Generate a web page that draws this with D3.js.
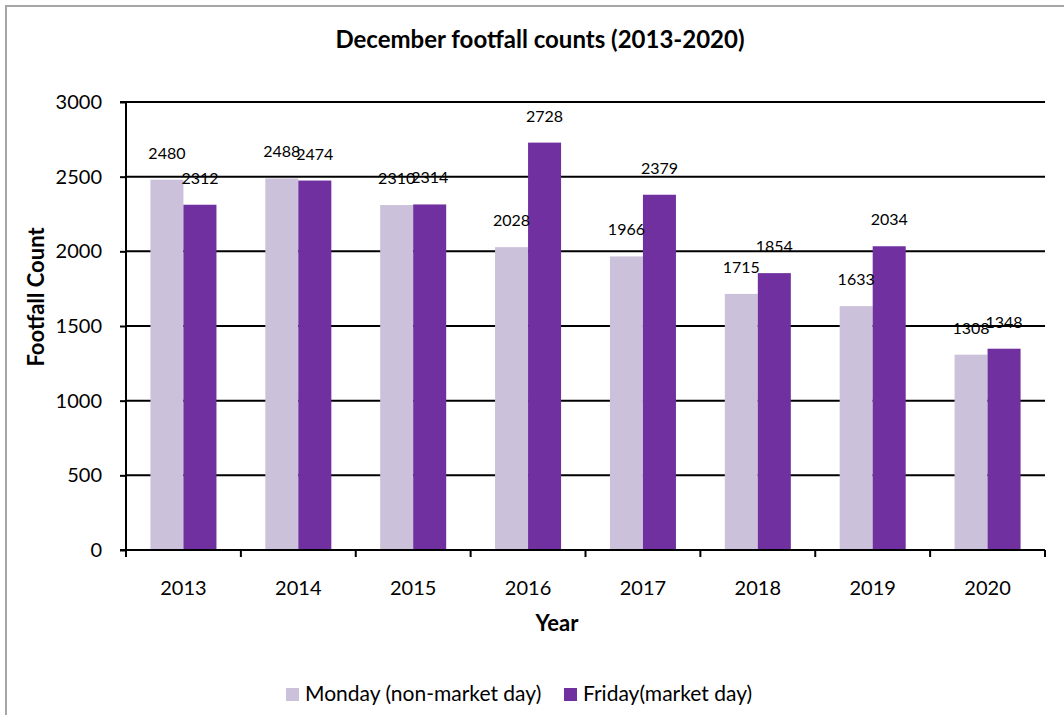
<!DOCTYPE html>
<html>
<head>
<meta charset="utf-8">
<script src="https://cdn.jsdelivr.net/npm/d3@7"></script>
<style>
  html, body { margin: 0; padding: 0; background: #fff; }
  svg { display: block; font-family: Lato, "Open Sans", sans-serif; }
</style>
</head>
<body>
<svg id="chart" width="1064" height="715"></svg>
<script>
// December footfall counts by year, Monday vs Friday
const years = ["2013", "2014", "2015", "2016", "2017", "2018", "2019", "2020"];
const seriesNames = ["Monday (non-market day)", "Friday(market day)"];
const mondayCounts = [2480, 2488, 2310, 2028, 1966, 1715, 1633, 1308];
const fridayCounts = [2312, 2474, 2314, 2728, 2379, 1854, 2034, 1348];
const yTicks = [0, 500, 1000, 1500, 2000, 2500, 3000];
const seriesColors = ["#CCC1DA", "#7030A0"];

const svg = d3.select("#chart");

// outer chart frame (left and top edges)
svg.append("path")
  .attr("d", "M6,715 V6 H1064")
  .attr("fill", "none")
  .attr("stroke", "#a6a6a6")
  .attr("stroke-width", 2);

const plot = { left: 126, right: 1045, top: 102, bottom: 550 };

const x0 = d3.scaleBand().domain(years).range([plot.left, plot.right]).padding(0);
const x1 = d3.scaleBand().domain(seriesNames).range([0, x0.bandwidth()])
  .paddingInner(0).paddingOuter(0.74);
const y = d3.scaleLinear().domain([0, 3000]).range([plot.bottom, plot.top]);

// horizontal gridlines
svg.append("g")
  .selectAll("line")
  .data(yTicks.filter(d => d > 0))
  .join("line")
  .attr("x1", plot.left).attr("x2", plot.right)
  .attr("y1", d => y(d)).attr("y2", d => y(d))
  .attr("stroke", "#000").attr("stroke-width", 2);

// bars
const rows = years.map((yr, i) => ({ year: yr, values: [mondayCounts[i], fridayCounts[i]] }));
const groups = svg.append("g").selectAll("g")
  .data(rows).join("g")
  .attr("transform", d => `translate(${x0(d.year)},0)`);

groups.selectAll("rect")
  .data(d => d.values.map((v, k) => ({ name: seriesNames[k], value: v, k })))
  .join("rect")
  .attr("x", d => x1(d.name))
  .attr("width", x1.bandwidth())
  .attr("y", d => y(d.value))
  .attr("height", d => y(0) - y(d.value))
  .attr("fill", d => seriesColors[d.k]);

// value labels above each bar
groups.selectAll("text")
  .data(d => d.values.map((v, k) => ({ name: seriesNames[k], value: v, k })))
  .join("text")
  .attr("x", d => x1(d.name) + x1.bandwidth() / 2)
  .attr("y", d => y(d.value) - 21)
  .attr("text-anchor", "middle")
  .attr("font-size", 16)
  .attr("fill", "#000")
  .text(d => d.value);

// y axis
const yAxis = d3.axisLeft(y).tickValues(yTicks).tickSize(6).tickPadding(18).tickFormat(d3.format("d"));
const gy = svg.append("g").attr("transform", `translate(${plot.left},0)`).call(yAxis);
gy.select(".domain").attr("stroke", "#000").attr("stroke-width", 2).attr("d", `M-6,${plot.top}H0V${plot.bottom}H-6`);
gy.selectAll(".tick line").attr("stroke", "#000").attr("stroke-width", 2);
gy.selectAll(".tick text").attr("font-size", 20).attr("font-family", "Lato, sans-serif").attr("fill", "#000");

// x axis: ticks sit on the category boundaries
const gx = svg.append("g").attr("transform", `translate(0,${plot.bottom})`);
gx.append("line")
  .attr("x1", plot.left).attr("x2", plot.right)
  .attr("stroke", "#000").attr("stroke-width", 2);
const boundaries = years.map(d => x0(d)).concat([plot.right]);
gx.selectAll("line.tick")
  .data(boundaries).join("line")
  .attr("class", "tick")
  .attr("x1", d => d).attr("x2", d => d)
  .attr("y1", 0).attr("y2", 7)
  .attr("stroke", "#000").attr("stroke-width", 2);
gx.selectAll("text")
  .data(years).join("text")
  .attr("x", d => x0(d) + x0.bandwidth() / 2)
  .attr("y", 45)
  .attr("text-anchor", "middle")
  .attr("font-size", 20)
  .attr("fill", "#000")
  .text(d => d);

// titles
svg.append("text")
  .attr("x", 540).attr("y", 48)
  .attr("text-anchor", "middle")
  .attr("font-size", 24).attr("font-weight", "bold")
  .text("December footfall counts (2013-2020)");

svg.append("text")
  .attr("x", 557).attr("y", 631)
  .attr("text-anchor", "middle")
  .attr("font-size", 22).attr("font-weight", "bold")
  .text("Year");

svg.append("text")
  .attr("transform", "translate(44,297) rotate(-90)")
  .attr("text-anchor", "middle")
  .attr("font-size", 22).attr("font-weight", "bold")
  .text("Footfall Count");

// legend
const legendItems = [
  { name: seriesNames[0], color: seriesColors[0], x: 286 },
  { name: seriesNames[1], color: seriesColors[1], x: 564 }
];
const lg = svg.append("g").selectAll("g").data(legendItems).join("g")
  .attr("transform", d => `translate(${d.x},688)`);
lg.append("rect").attr("width", 13).attr("height", 13).attr("fill", d => d.color);
lg.append("text").attr("x", 19).attr("y", 13).attr("font-size", 21).attr("fill", "#000").text(d => d.name);
</script>
</body>
</html>
